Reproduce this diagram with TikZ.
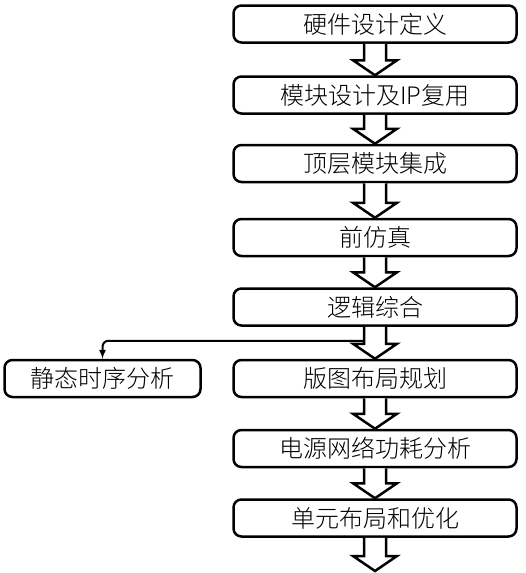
\documentclass[tikz,border=0pt]{standalone}
\usepackage{fontspec}
\setmainfont{Noto Sans CJK SC Light}
\usetikzlibrary{arrows}
\usetikzlibrary{calc}
\tikzset{
  stepbox/.style={draw, line width=2.5pt, rounded corners=8pt, fill=white,
    minimum width=283pt, minimum height=37pt, inner sep=0pt,
    font=\fontsize{24}{28}\selectfont},
  fatarrow/.style={draw, line width=2.5pt, fill=white, line join=miter},
  thinarrow/.style={line width=2pt, ->, >=latex, rounded corners=6pt}
}
% hollow arrow from the bottom of one box to the top of the next
\newcommand{\bigarrow}[2]{%
  \draw[fatarrow] ($#1+(-11pt,0)$) -- ($#2+(-11pt,15pt)$) -- ($#2+(-22pt,15pt)$)
    -- #2 -- ($#2+(22pt,15pt)$) -- ($#2+(11pt,15pt)$) -- ($#1+(11pt,0)$);}
\begin{document}
\begin{tikzpicture}[x=1pt,y=-1pt]
  \useasboundingbox (0,0) rectangle (526,573);
  % define the steps
  \node[stepbox] (b1) at (375,24) {硬件设计定义};
  \node[stepbox] (b2) at (375,95) {模块设计及IP复用};
  \node[stepbox] (b3) at (375,163.5) {顶层模块集成};
  \node[stepbox] (b4) at (375,237.5) {前仿真};
  \node[stepbox] (b5) at (375,307) {逻辑综合};
  \node[stepbox] (b6) at (375,378.5) {版图布局规划};
  \node[stepbox] (b7) at (375,448.5) {电源网络功耗分析};
  \node[stepbox] (b8) at (375,518) {单元布局和优化};
  \node[stepbox, minimum width=196pt] (sta) at (102.5,378.5) {静态时序分析};
  \coordinate (fork) at ($(b5.south)+(-12pt,-14pt)$);
  \coordinate (end) at (375,571);
  % draw the branch to timing analysis
  \draw[thinarrow] (fork) -| (sta.north);
  % draw the flow arrows
  \bigarrow{(b1.south)}{(b2.north)}
  \bigarrow{(b2.south)}{(b3.north)}
  \bigarrow{(b3.south)}{(b4.north)}
  \bigarrow{(b4.south)}{(b5.north)}
  \bigarrow{(b5.south)}{(b6.north)}
  \bigarrow{(b6.south)}{(b7.north)}
  \bigarrow{(b7.south)}{(b8.north)}
  \bigarrow{(b8.south)}{(end)}
\end{tikzpicture}
\end{document}
